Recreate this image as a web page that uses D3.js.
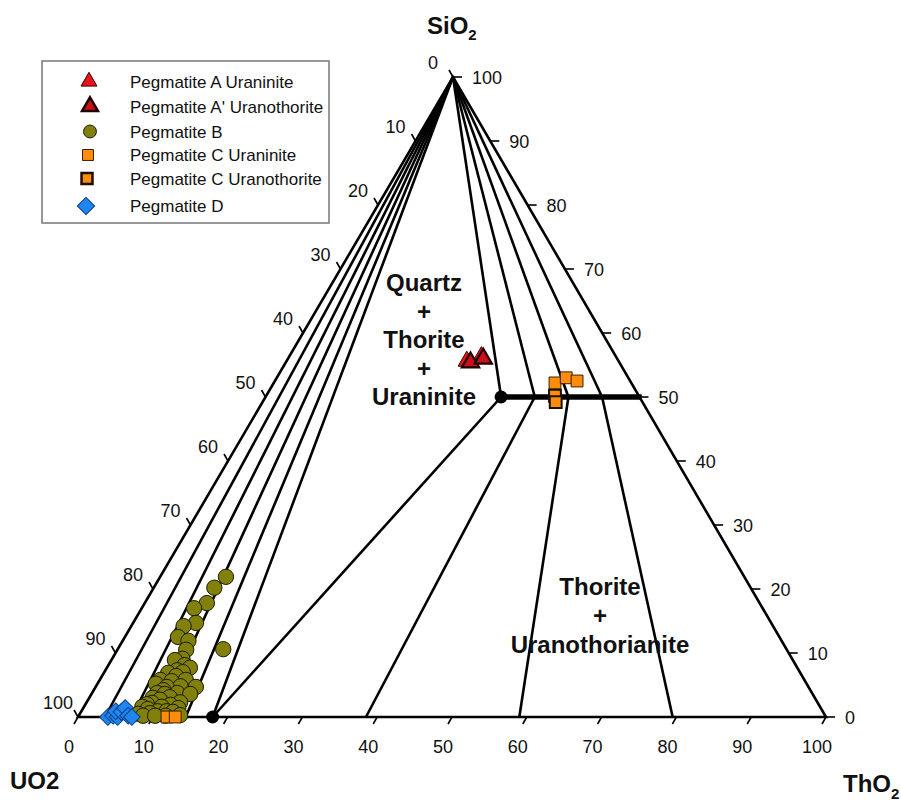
<!DOCTYPE html>
<html><head><meta charset="utf-8">
<script src="https://cdn.jsdelivr.net/npm/d3@7"></script>
<style>
body{margin:0;background:#fff}
svg{display:block}
text{font-family:"Liberation Sans", Arial, Helvetica, sans-serif; fill:#111}
</style>
</head><body>
<svg id="chart" width="901" height="802"></svg>
<script>
// ---------------- DATA ----------------
const tickValues = [0,10,20,30,40,50,60,70,80,90,100];
const axisNames = {top:"SiO", left:"UO2", right:"ThO"};
// phase-diagram construction (compositions in % : ThO2, SiO2 ; UO2 = rest)
const quartzUraniniteTieThO2 = [3.6, 7.2, 10.8, 14.4, 18];        // apex -> base (SiO2=0)
const thoriteJoinSiO2 = 50;
const thoriteLimitThO2 = 31.5;                                      // end of thorite s.s. on SiO2=50
const quartzThoriteTieThO2 = [31.5, 36, 40.5, 45];                  // apex -> SiO2=50 join
const thoriteEndThO2 = [31.5, 36, 40.5, 45];                        // on SiO2=50 join
const uranothorianiteEndThO2 = [18, 38.5, 59, 79.5];                // on base
const uranothorianiteLimitThO2 = 18;

// series: [ThO2, SiO2]
const pegA_uraninite = [[24.1,55.6],[25.7,56.3]];
const pegA_uranothorite = [[24.7,55.4],[26.1,56.0]];
const pegB = [[8.8,21.9],[8.1,20.2],[8.3,17.8],[7.0,17.0],[8.4,14.7],[7.0,14.2],[7.1,12.5],[8.8,11.9],
  [9.2,10.5],[14.1,10.6],[9.4,9.1],[8.5,8.9],[10.2,8.1],[11.1,7.7],[9.6,7.3],[10.5,7.0],[8.6,6.9],
  [9.9,6.4],[8.1,5.8],[11.5,5.8],[9.7,5.6],[7.8,5.2],[11.3,4.8],[9.5,4.7],[13.4,4.7],[9.3,4.2],
  [8.7,3.75],[11.4,3.75],[9.8,3.6],[13.2,3.6],[10.7,3.1],[8.5,3.0],[9.6,2.7],[12.5,2.3],[8.8,2.2],
  [8.2,2.0],[11.4,1.9],[10.4,1.6],[7.8,1.6],[12.7,1.4],[8.7,1.25],[10.2,0.9],[11.4,0.9],[12.3,0.8],
  [9.3,0.6],[7.8,0.5],[13.5,0.3],[8.6,0.2],[11.6,0.2],[10.2,0.2]];
const pegC_uraninite = [[37.6,52.2],[38.7,53.0],[40.4,52.5],[11.9,0.0],[13.0,0.0]];
const pegC_uranothorite = [[38.6,50.2],[39.2,49.2]];
const pegD = [[4.0,0.0],[4.6,0.2],[5.3,0.0],[4.6,0.9],[5.4,0.8],[5.6,1.4],[6.6,0.2],[7.2,0.0]];

const legendLabels = ["Pegmatite A Uraninite","Pegmatite A' Uranothorite","Pegmatite B",
  "Pegmatite C Uraninite","Pegmatite C Uranothorite","Pegmatite D"];

// ---------------- LAYOUT ----------------
const svg = d3.select("#chart");
const x0 = 78;
const thoX = d3.scaleLinear().domain([0,100]).range([0,748]);
const siX  = d3.scaleLinear().domain([0,100]).range([0,375]);
const siY  = d3.scaleLinear().domain([0,100]).range([717,77]);
const P = (th, si) => [x0 + thoX(th) + siX(si), siY(si)];
const line = d3.line();

const gLines = svg.append("g").attr("fill","none").attr("stroke","#000").attr("stroke-width",2.6);

// triangle frame
gLines.append("path").attr("d", line([P(0,0),P(100,0),P(0,100)]) + "Z").attr("stroke-linejoin","miter");

// quartz - uraninite tie lines
quartzUraniniteTieThO2.forEach(t => gLines.append("path").attr("d", line([P(0,100), P(t,0)])));
// quartz - thorite tie lines
quartzThoriteTieThO2.forEach(t => gLines.append("path").attr("d", line([P(0,100), P(t,thoriteJoinSiO2)])));
// thorite - uranothorianite tie lines
thoriteEndThO2.forEach((t,i) => gLines.append("path").attr("d", line([P(t,thoriteJoinSiO2), P(uranothorianiteEndThO2[i],0)])));
// thorite join (thick)
gLines.append("path").attr("d", line([P(thoriteLimitThO2,thoriteJoinSiO2), P(100-thoriteJoinSiO2+0.3,thoriteJoinSiO2)]))
  .attr("stroke-width",5.5);
// dots
[[thoriteLimitThO2,thoriteJoinSiO2],[uranothorianiteLimitThO2,0]].forEach(d => {
  const p = P(d[0],d[1]);
  svg.append("circle").attr("cx",p[0]).attr("cy",p[1]).attr("r",6.5).attr("fill","#000");
});

// ---------------- AXES ----------------
const gAx = svg.append("g");
const tickStyle = s => s.attr("stroke","#000").attr("stroke-width",1.6);
// bottom: ThO2
tickValues.forEach(v => {
  const p = P(v,0);
  gAx.append("line").attr("x1",p[0]).attr("y1",p[1]).attr("x2",p[0]-4).attr("y2",p[1]+7).call(tickStyle);
  gAx.append("text").attr("x",p[0]-9).attr("y",753).attr("text-anchor","middle").attr("font-size",18).text(v);
});
// right: SiO2
tickValues.forEach(v => {
  const p = P(100-v, v);
  gAx.append("line").attr("x1",p[0]).attr("y1",p[1]).attr("x2",p[0]+9).attr("y2",p[1]).call(tickStyle);
  gAx.append("text").attr("x",p[0]+19).attr("y",p[1]+6.5).attr("font-size",18).text(v);
});
// left: UO2
tickValues.forEach(v => {
  const p = P(0, 100-v);
  gAx.append("line").attr("x1",p[0]).attr("y1",p[1]).attr("x2",p[0]-4).attr("y2",p[1]-7).call(tickStyle);
  gAx.append("text").attr("x",p[0]-20).attr("y",p[1]-14.5+6.5).attr("text-anchor","middle").attr("font-size",18).text(v);
});

// axis titles
const t1 = svg.append("text").attr("x",427).attr("y",34).attr("font-size",24).attr("font-weight","bold");
t1.append("tspan").text(axisNames.top);
t1.append("tspan").attr("font-size",15).attr("dy",6).text("2");
svg.append("text").attr("x",10).attr("y",789).attr("font-size",24).attr("font-weight","bold").text(axisNames.left);
const t3 = svg.append("text").attr("x",843).attr("y",792).attr("font-size",24).attr("font-weight","bold");
t3.append("tspan").text(axisNames.right);
t3.append("tspan").attr("font-size",15).attr("dy",7).text("2");

// field labels
const field1 = ["Quartz","+","Thorite","+","Uraninite"];
field1.forEach((s,i) => svg.append("text").attr("x",424).attr("y",291 + i*28.5)
  .attr("text-anchor","middle").attr("font-size",24).attr("font-weight","bold").text(s));
const field2 = ["Thorite","+","Uranothorianite"];
field2.forEach((s,i) => svg.append("text").attr("x",600).attr("y",595 + i*29)
  .attr("text-anchor","middle").attr("font-size",24).attr("font-weight","bold").text(s));

// ---------------- MARKERS ----------------
const styles = [
  {data:pegA_uraninite, type:d3.symbolTriangle, size:130, fill:"#e8141c", stroke:"#3a0000", sw:1, rot:0},
  {data:pegA_uranothorite, type:d3.symbolTriangle, size:130, fill:"#cc1018", stroke:"#200000", sw:2.2, rot:0},
  {data:pegB, type:d3.symbolCircle, size:185, fill:"#80800a", stroke:"#1a1a00", sw:1, rot:0},
  {data:pegC_uraninite, type:d3.symbolSquare, size:140, fill:"#ff8c0a", stroke:"#3a2000", sw:1, rot:0},
  {data:pegC_uranothorite, type:d3.symbolSquare, size:140, fill:"#ff8c0a", stroke:"#1a0f00", sw:2, rot:0},
  {data:pegD, type:d3.symbolSquare, size:140, fill:"#1f86f0", stroke:"#0b3a80", sw:1, rot:45}
];
const gM = svg.append("g");
styles.forEach(s => {
  gM.selectAll(null).data(s.data).enter().append("path")
    .attr("d", d3.symbol().type(s.type).size(s.size))
    .attr("transform", d => { const p = P(d[0],d[1]); return `translate(${p[0]},${p[1]}) rotate(${s.rot})`; })
    .attr("fill", s.fill).attr("stroke", s.stroke).attr("stroke-width", s.sw);
});

// ---------------- LEGEND ----------------
const lg = svg.append("g");
lg.append("rect").attr("x",42).attr("y",61).attr("width",287).attr("height",162)
  .attr("fill","#fff").attr("stroke","#777").attr("stroke-width",1.5);
const rowY = [81.5,106.5,131.5,155,178.5,206];
const symX = [89,90,90,88,87,86];
const legSizes = [110,110,130,120,120,150];
styles.forEach((s,i) => {
  lg.append("path").attr("d", d3.symbol().type(s.type).size(legSizes[i]))
    .attr("transform", `translate(${symX[i]},${rowY[i]}) rotate(${s.rot})`)
    .attr("fill", s.fill).attr("stroke", s.stroke).attr("stroke-width", i===1||i===4 ? 2.5 : s.sw);
  lg.append("text").attr("x",130).attr("y",rowY[i]+6).attr("font-size",17).text(legendLabels[i]);
});
</script>
</body></html>
